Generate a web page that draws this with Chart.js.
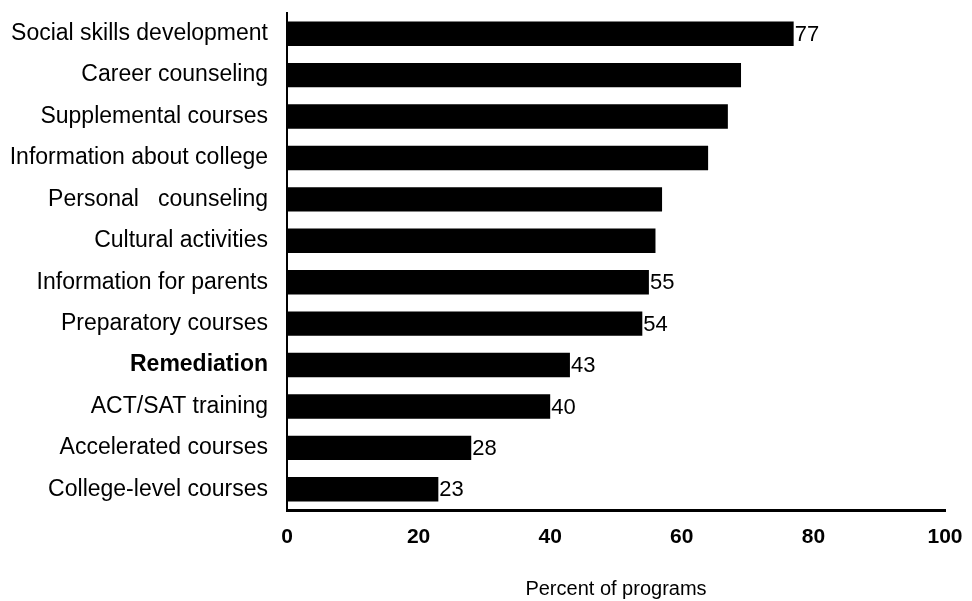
<!DOCTYPE html>
<html>
<head>
<meta charset="utf-8">
<script src="https://cdn.jsdelivr.net/npm/chart.js@4/dist/chart.umd.min.js"></script>
<style>
  html, body { margin: 0; padding: 0; background: #fff; }
  #wrap { width: 972px; height: 601px; position: relative; }
</style>
</head>
<body>
<div id="wrap"><canvas id="programsChart"></canvas></div>
<script>
const categories = [
    'Social skills development', 'Career counseling', 'Supplemental courses',
    'Information about college', 'Personal   counseling', 'Cultural activities',
    'Information for parents', 'Preparatory courses', 'Remediation',
    'ACT/SAT training', 'Accelerated courses', 'College-level courses'
];
const percents = [77, 69, 67, 64, 57, 56, 55, 54, 43, 40, 28, 23];
const showValue = [true, false, false, false, false, false, true, true, true, true, true, true];
const xTicks = [0, 20, 40, 60, 80, 100];

const fontFamily = '"Liberation Sans", Arial, Helvetica, sans-serif';

// value labels at the end of some bars
const barValues = {
    id: 'barValues',
    afterDatasetsDraw(chart) {
        const ctx = chart.ctx;
        const meta = chart.getDatasetMeta(0);
        ctx.save();
        ctx.font = '22px ' + fontFamily;
        ctx.fillStyle = '#000';
        ctx.textAlign = 'left';
        ctx.textBaseline = 'middle';
        meta.data.forEach((bar, i) => {
            if (showValue[i]) ctx.fillText(String(percents[i]), bar.x + 1, bar.y + 1);
        });
        ctx.restore();
    }
};

new Chart(document.getElementById('programsChart'), {
    type: 'bar',
    data: {
        labels: categories,
        datasets: [{
            data: percents,
            backgroundColor: '#000',
            borderWidth: 0,
            barPercentage: 0.59,
            categoryPercentage: 1
        }]
    },
    options: {
        indexAxis: 'y',
        responsive: true,
        maintainAspectRatio: false,
        animation: false,
        layout: { padding: { top: 13, right: 27, bottom: 0, left: 0 } },
        plugins: {
            legend: { display: false },
            tooltip: { enabled: false }
        },
        scales: {
            x: {
                min: 0,
                max: 100,
                afterBuildTicks: (scale) => { scale.ticks = xTicks.map(v => ({ value: v })); },
                afterFit: (scale) => {
                    scale.height = 91;
                    scale.paddingLeft = 0;
                    scale.paddingRight = 0;
                },
                grid: { display: false, drawTicks: false },
                border: { display: true, color: '#000', width: 3 },
                ticks: {
                    color: '#000',
                    padding: 15,
                    font: { family: fontFamily, size: 21, weight: 'bold' }
                },
                title: {
                    display: true,
                    text: 'Percent of programs',
                    color: '#000',
                    font: { family: fontFamily, size: 20 },
                    padding: { top: 20, bottom: 0 }
                }
            },
            y: {
                afterFit: (scale) => {
                    scale.width = 287;
                    scale.paddingTop = 0;
                    scale.paddingBottom = 0;
                },
                grid: { display: false, drawTicks: false },
                border: { display: true, color: '#000', width: 2 },
                ticks: {
                    color: '#000',
                    padding: 19,
                    autoSkip: false,
                    font: (ctx) => ({
                        family: fontFamily,
                        size: 23,
                        weight: ctx.index === 8 ? 'bold' : 'normal'
                    })
                }
            }
        }
    },
    plugins: [barValues]
});
</script>
</body>
</html>
